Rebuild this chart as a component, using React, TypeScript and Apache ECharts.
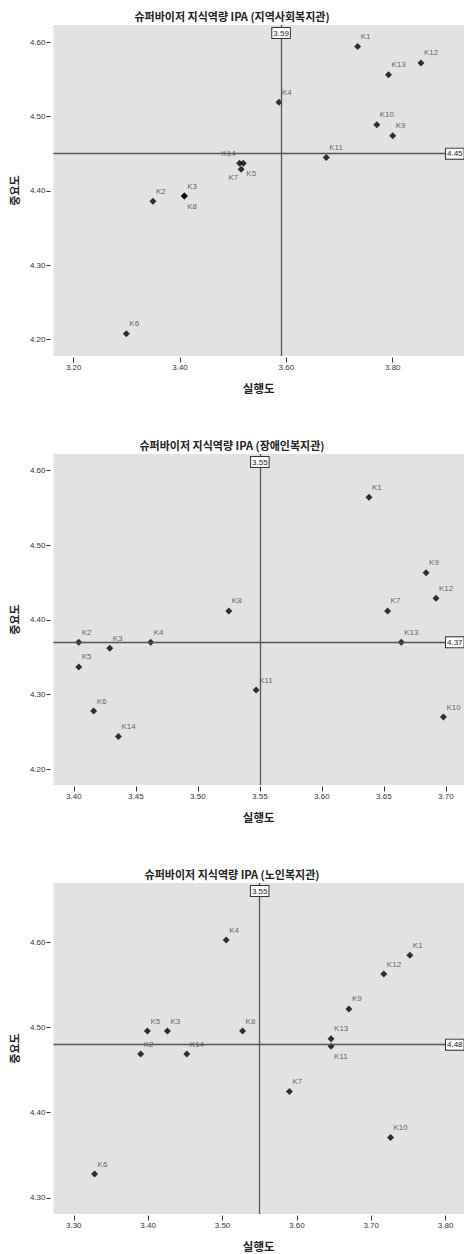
import React, { useEffect, useRef } from "react";
import * as echarts from "echarts";

const pointNames = ["K1", "K2", "K3", "K4", "K5", "K6", "K7", "K8", "K9", "K10", "K11", "K12", "K13", "K14"];

const chartTitles = [
  "슈퍼바이저 지식역량 IPA (지역사회복지관)",
  "슈퍼바이저 지식역량 IPA (장애인복지관)",
  "슈퍼바이저 지식역량 IPA (노인복지관)",
];
const xAxisName = "실행도";
const yAxisName = "중요도";

// 실행도 (performance) and 중요도 (importance), K1..K14
const perfCommunity = [3.734, 3.349, 3.408, 3.586, 3.519, 3.299, 3.515, 3.408, 3.8, 3.77, 3.675, 3.853, 3.792, 3.512];
const impCommunity = [4.594, 4.386, 4.393, 4.519, 4.437, 4.208, 4.429, 4.393, 4.474, 4.489, 4.445, 4.572, 4.556, 4.437];

const perfDisabled = [3.638, 3.404, 3.429, 3.462, 3.404, 3.416, 3.653, 3.525, 3.684, 3.698, 3.547, 3.692, 3.664, 3.436];
const impDisabled = [4.564, 4.37, 4.362, 4.37, 4.337, 4.278, 4.412, 4.412, 4.463, 4.27, 4.306, 4.429, 4.37, 4.244];

const perfElderly = [3.752, 3.39, 3.426, 3.505, 3.399, 3.328, 3.59, 3.527, 3.67, 3.726, 3.646, 3.717, 3.646, 3.452];
const impElderly = [4.585, 4.469, 4.496, 4.603, 4.496, 4.328, 4.425, 4.496, 4.522, 4.371, 4.478, 4.563, 4.487, 4.469];

const meanPerf = [3.59, 3.55, 3.55];
const meanImp = [4.45, 4.37, 4.48];

const xTicks = [
  [3.2, 3.4, 3.6, 3.8],
  [3.4, 3.45, 3.5, 3.55, 3.6, 3.65, 3.7],
  [3.3, 3.4, 3.5, 3.6, 3.7, 3.8],
];
const yTicks = [
  [4.2, 4.3, 4.4, 4.5, 4.6],
  [4.2, 4.3, 4.4, 4.5, 4.6],
  [4.3, 4.4, 4.5, 4.6],
];
const xExtent = [
  [3.162, 3.934],
  [3.3836, 3.7146],
  [3.2727, 3.8248],
];
const yExtent = [
  [4.178, 4.623],
  [4.179, 4.622],
  [4.281, 4.67],
];

// label placement overrides (ur = upper right default)
const placements: Record<string, string>[] = [
  { K14: "ul", K5: "dr", K7: "dl", K8: "dr" },
  {},
  { K11: "dr" },
];

const gridTops = [25, 454, 883];
const titleTops = [5, 434, 863];
const GRID_H = 331;
const SYM = 7;

function labelFor(p: string) {
  const h = SYM / 2;
  switch (p) {
    case "dr":
      return { position: [h + 3, h + 10], align: "left" };
    case "ul":
      return { position: [h - 4, h - 10], align: "right" };
    case "dl":
      return { position: [h - 3, h + 8], align: "right" };
    default:
      return { position: [h + 3, h - 10], align: "left" };
  }
}

export default function App() {
  const ref = useRef<HTMLDivElement>(null);
  useEffect(() => {
    if (!ref.current) return;
    const chart = echarts.init(ref.current, null, { renderer: "svg" });
    const datasets = [
      [perfCommunity, impCommunity],
      [perfDisabled, impDisabled],
      [perfElderly, impElderly],
    ];
    const fmt = (v: number) => v.toFixed(2);
    const tickFont = { fontFamily: "Liberation Sans, Arial, sans-serif", fontSize: 8, color: "#333" };

    const option: any = {
      animation: false,
      backgroundColor: "#ffffff",
      title: chartTitles.map((t, i) => ({
        text: t,
        left: "center",
        top: titleTops[i],
        textStyle: {
          fontFamily: "'Noto Sans CJK KR', sans-serif",
          fontSize: 11,
          fontWeight: "bold",
          color: "#222",
        },
      })),
      grid: gridTops.map((top) => ({
        left: 48,
        right: 0,
        top,
        height: GRID_H,
        show: true,
        backgroundColor: "#e2e2e2",
        borderWidth: 0,
        containLabel: false,
      })),
      xAxis: [0, 1, 2].map((i) => ({
        type: "value",
        gridIndex: i,
        min: xExtent[i][0],
        max: xExtent[i][1],
        offset: 1.5,
        name: xAxisName,
        nameLocation: "middle",
        nameGap: 25,
        nameTextStyle: {
          fontFamily: "'Noto Sans CJK KR', sans-serif",
          fontSize: 11.5,
          fontWeight: "bold",
          color: "#222",
        },
        axisLine: { show: false },
        splitLine: { show: false },
        axisTick: { show: true, length: 5, customValues: xTicks[i], lineStyle: { color: "#333", width: 1 } },
        axisLabel: { ...tickFont, margin: 6, customValues: xTicks[i], formatter: fmt },
      })),
      yAxis: [0, 1, 2].map((i) => ({
        type: "value",
        gridIndex: i,
        min: yExtent[i][0],
        max: yExtent[i][1],
        offset: 3,
        name: yAxisName,
        nameLocation: "middle",
        nameRotate: 90,
        nameGap: 27,
        nameTextStyle: {
          fontFamily: "'Noto Sans CJK KR', sans-serif",
          fontSize: 11,
          fontWeight: "bold",
          color: "#222",
        },
        axisLine: { show: false },
        splitLine: { show: false },
        axisTick: { show: true, length: 4, customValues: yTicks[i], lineStyle: { color: "#333", width: 1 } },
        axisLabel: { ...tickFont, margin: 5, customValues: yTicks[i], formatter: fmt },
      })),
      series: datasets.map(([xs, ys], i) => ({
        type: "scatter",
        xAxisIndex: i,
        yAxisIndex: i,
        symbol: "diamond",
        symbolSize: SYM,
        itemStyle: { color: "#000" },
        data: xs.map((x, k) => {
          const name = pointNames[k];
          const pl = labelFor(placements[i][name] || "ur");
          return {
            name,
            value: [x, ys[k]],
            label: {
              show: true,
              formatter: name,
              position: pl.position,
              align: pl.align,
              verticalAlign: "middle",
              fontFamily: "Liberation Sans, Arial, sans-serif",
              fontSize: 8,
              color: "#3a3a3a",
            },
          };
        }),
        markLine: {
          silent: true,
          symbol: ["none", "none"],
          animation: false,
          lineStyle: { color: "#555", width: 1.3, type: "solid" },
          label: {
            show: true,
            formatter: (p: any) => fmt(p.value),
            fontFamily: "Liberation Sans, Arial, sans-serif",
            fontSize: 8,
            lineHeight: 9,
            color: "#222",
            backgroundColor: "#ffffff",
            borderColor: "#333",
            borderWidth: 1,
            padding: [1, 1, 0, 1],
          },
          data: [
            { xAxis: meanPerf[i], label: { position: "end", offset: [0, 18] } },
            { yAxis: meanImp[i], label: { position: "end", offset: [-23, 0] } },
          ],
        },
      })),
    };
    chart.setOption(option);
    return () => chart.dispose();
  }, []);

  return (
    <div style={{ position: "absolute", left: 0, top: 0, width: 464, height: 1254, overflow: "hidden" }}>
      <div ref={ref} style={{ width: 464, height: 1254 }} />
    </div>
  );
}
